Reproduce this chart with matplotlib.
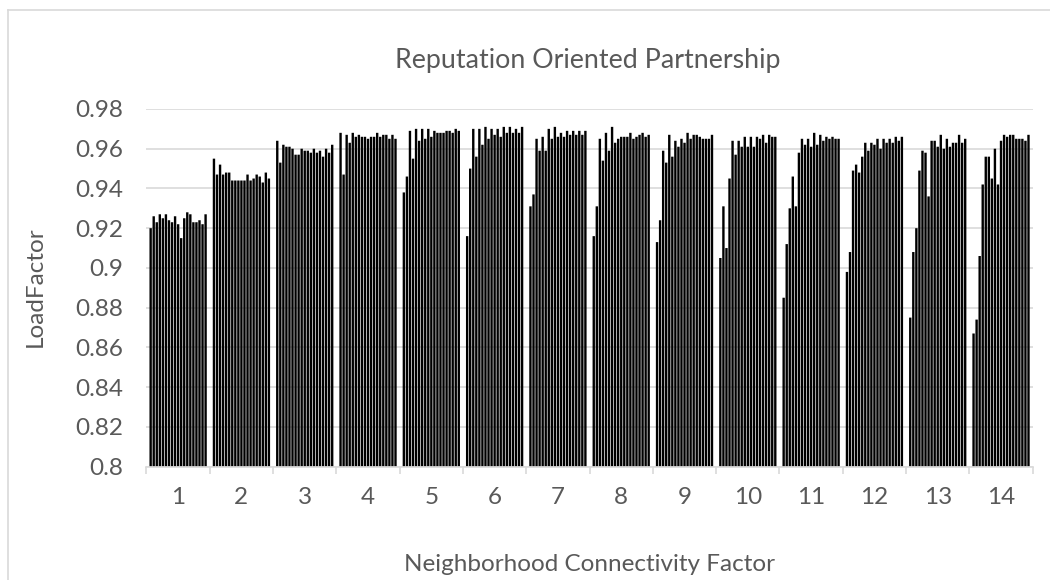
import numpy as np
import matplotlib
matplotlib.use("Agg")
import matplotlib.pyplot as plt
from matplotlib.lines import Line2D

# Load factor per run, grouped by neighborhood connectivity factor (1..14)
nc1 = [0.920, 0.926, 0.923, 0.927, 0.925, 0.927, 0.924, 0.923, 0.926, 0.922, 0.915, 0.925, 0.928, 0.927, 0.923, 0.923, 0.924, 0.922, 0.927]
nc2 = [0.955, 0.947, 0.952, 0.947, 0.948, 0.948, 0.944, 0.944, 0.944, 0.944, 0.944, 0.947, 0.944, 0.945, 0.947, 0.946, 0.943, 0.948, 0.945]
nc3 = [0.964, 0.953, 0.962, 0.961, 0.961, 0.960, 0.957, 0.957, 0.960, 0.959, 0.959, 0.958, 0.960, 0.958, 0.959, 0.956, 0.960, 0.958, 0.962]
nc4 = [0.968, 0.947, 0.967, 0.963, 0.968, 0.966, 0.967, 0.966, 0.966, 0.965, 0.966, 0.966, 0.968, 0.966, 0.967, 0.967, 0.965, 0.967, 0.965]
nc5 = [0.938, 0.946, 0.969, 0.955, 0.970, 0.964, 0.970, 0.965, 0.970, 0.966, 0.969, 0.968, 0.968, 0.968, 0.969, 0.969, 0.968, 0.970, 0.969]
nc6 = [0.916, 0.950, 0.970, 0.956, 0.970, 0.962, 0.971, 0.965, 0.970, 0.967, 0.970, 0.966, 0.971, 0.968, 0.971, 0.968, 0.970, 0.968, 0.971]
nc7 = [0.931, 0.937, 0.965, 0.959, 0.966, 0.959, 0.970, 0.965, 0.971, 0.966, 0.968, 0.966, 0.969, 0.967, 0.969, 0.967, 0.969, 0.967, 0.969]
nc8 = [0.916, 0.931, 0.965, 0.954, 0.968, 0.959, 0.971, 0.963, 0.965, 0.966, 0.966, 0.966, 0.968, 0.965, 0.966, 0.967, 0.968, 0.966, 0.967]
nc9 = [0.913, 0.924, 0.959, 0.953, 0.967, 0.956, 0.964, 0.961, 0.965, 0.963, 0.968, 0.965, 0.967, 0.967, 0.966, 0.965, 0.965, 0.965, 0.967]
nc10 = [0.905, 0.931, 0.910, 0.945, 0.964, 0.957, 0.964, 0.961, 0.966, 0.961, 0.966, 0.961, 0.966, 0.965, 0.967, 0.963, 0.967, 0.966, 0.966]
nc11 = [0.885, 0.912, 0.930, 0.946, 0.931, 0.958, 0.965, 0.962, 0.965, 0.961, 0.968, 0.962, 0.967, 0.964, 0.966, 0.965, 0.966, 0.965, 0.965]
nc12 = [0.898, 0.908, 0.949, 0.952, 0.948, 0.956, 0.963, 0.959, 0.963, 0.962, 0.965, 0.960, 0.965, 0.963, 0.965, 0.963, 0.966, 0.964, 0.966]
nc13 = [0.875, 0.908, 0.920, 0.949, 0.959, 0.958, 0.936, 0.964, 0.964, 0.961, 0.967, 0.960, 0.965, 0.961, 0.963, 0.963, 0.967, 0.963, 0.965]
nc14 = [0.867, 0.874, 0.906, 0.942, 0.956, 0.956, 0.945, 0.960, 0.942, 0.964, 0.967, 0.966, 0.967, 0.967, 0.965, 0.965, 0.965, 0.964, 0.967]

categories = [str(i) for i in range(1, 15)]
groups = [nc1, nc2, nc3, nc4, nc5, nc6, nc7, nc8, nc9, nc10, nc11, nc12, nc13, nc14]
y_ticks = [0.8, 0.82, 0.84, 0.86, 0.88, 0.9, 0.92, 0.94, 0.96, 0.98]
y_tick_labels = ["0.8", "0.82", "0.84", "0.86", "0.88", "0.9", "0.92", "0.94", "0.96", "0.98"]

TEXT = "#595959"
GRID = "#d9d9d9"
FONT = ["Lato", "DejaVu Sans"]
plt.rcParams["font.family"] = FONT

fig = plt.figure(figsize=(10.5, 5.8), dpi=100)
ax = fig.add_axes([0.1395, 0.1955, 0.8440, 0.6166])

# series are the individual runs; each category holds one bar per run
data = np.array(groups)            # shape (14 categories, 19 runs)
n_cat, n_run = data.shape
group_span = 0.916
slot = group_span / n_run
base = 0.8
for r in range(n_run):
    x = np.arange(n_cat) + 0.5 - group_span / 2 + slot * (r + 0.5)
    ax.bar(x, data[:, r] - base, bottom=base, width=slot * 0.78,
           color="#000000", linewidth=0, zorder=3, snap=False)

ax.set_xlim(0, n_cat)
ax.set_ylim(0.8, 0.98)
ax.set_yticks(y_ticks)
ax.set_yticklabels(y_tick_labels)
ax.yaxis.grid(True, color=GRID, linewidth=1.2, zorder=0)
ax.set_axisbelow(True)

# category boundaries carry the tick marks, labels sit at the centers
ax.set_xticks(np.arange(n_cat + 1))
ax.set_xticklabels([])
ax.set_xticks(np.arange(n_cat) + 0.5, minor=True)
ax.set_xticklabels(categories, minor=True)
ax.tick_params(axis="x", which="major", length=5, width=1.2, color=GRID, direction="out")
ax.tick_params(axis="x", which="minor", length=0, pad=14.5, labelsize=17.5, labelcolor=TEXT)
ax.tick_params(axis="y", length=0, pad=16.5, labelsize=17.5, labelcolor=TEXT)

for s in ["top", "right", "left"]:
    ax.spines[s].set_visible(False)
ax.spines["bottom"].set_color(GRID)
ax.spines["bottom"].set_linewidth(1.2)
ax.spines["bottom"].set_zorder(4)

fig.text(0.5600, 0.895, "Reputation Oriented Partnership", ha="center", va="center",
         fontsize=19.3, color=TEXT, fontweight="normal")
fig.text(0.5619, 0.026, "Neighborhood Connectivity Factor", ha="center", va="center",
         fontsize=17.5, color=TEXT)
fig.text(0.034, 0.505, "LoadFactor", ha="center", va="center", rotation=90,
         fontsize=17.5, color=TEXT)

# chart frame edges
fig.add_artist(Line2D([0.0072, 1.0], [0.983, 0.983], color=GRID, linewidth=1.2,
                      transform=fig.transFigure))
fig.add_artist(Line2D([0.0072, 0.0072], [0.0, 0.983], color=GRID, linewidth=1.2,
                      transform=fig.transFigure))

fig.savefig("out.png", dpi=100)
